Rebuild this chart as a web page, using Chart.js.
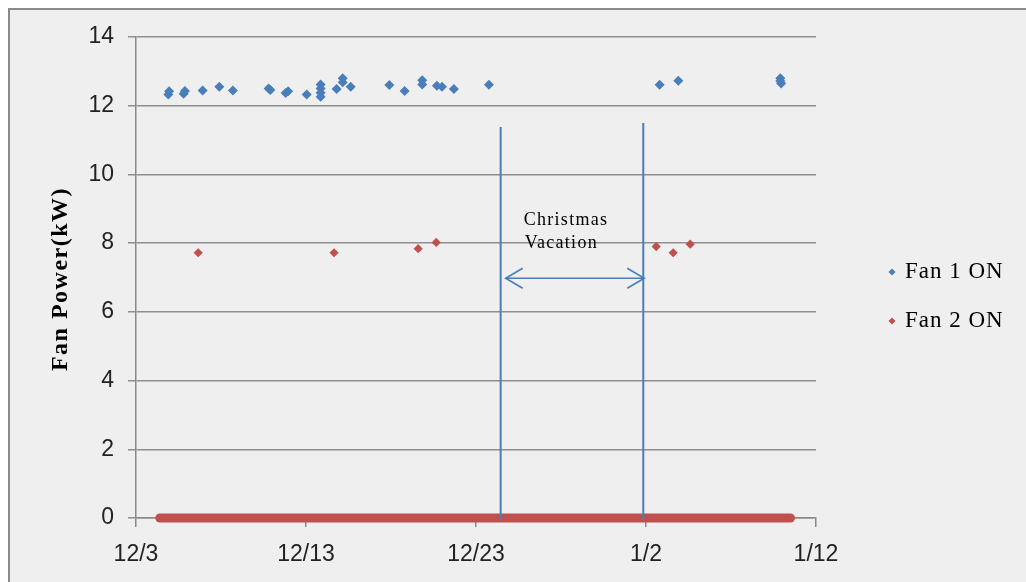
<!DOCTYPE html>
<html>
<head>
<meta charset="utf-8">
<title>Fan Power</title>
<script src="https://cdn.jsdelivr.net/npm/chart.js@4/dist/chart.umd.min.js"></script>
<style>
  html, body { margin: 0; padding: 0; background: #ffffff; }
  canvas { display: block; }
</style>
</head>
<body>
<canvas id="fan" width="1026" height="582"></canvas>
<script>
// Days are counted from 12/3; tick labels every 10 days.
const xTickLabels = ['12/3', '12/13', '12/23', '1/2', '1/12'];
const yTicks = [0, 2, 4, 6, 8, 10, 12, 14];

// Fan 1 ON readings (day, kW)
const fan1Days = [1.9, 1.95, 2.8, 2.88, 3.92, 4.9, 5.7, 7.8, 7.9, 8.8, 8.95, 10.04,
  10.86, 10.86, 10.86, 10.86, 11.8, 12.16, 12.16, 12.63, 14.9, 15.8, 16.84, 16.84,
  17.7, 18.0, 18.7, 20.76, 30.8, 31.9, 37.9, 37.9, 37.95];
const fan1Power = [12.33, 12.42, 12.35, 12.43, 12.44, 12.55, 12.44, 12.5, 12.46, 12.37, 12.42, 12.33,
  12.62, 12.5, 12.38, 12.26, 12.49, 12.8, 12.68, 12.55, 12.6, 12.43, 12.74, 12.62,
  12.58, 12.55, 12.49, 12.61, 12.61, 12.73, 12.8, 12.72, 12.65];

// Fan 2 ON readings (day, kW)
const fan2Days = [3.66, 11.65, 16.6, 17.66, 30.6, 31.6, 32.6];
const fan2Power = [7.72, 7.72, 7.84, 8.02, 7.9, 7.72, 7.97];

// Span of continuous zero-power readings (first and last day)
const offDays = [1.4, 38.5];
const offPower = [0, 0];

// Christmas vacation markers
const vacationStart = 21.45;
const vacationEnd = 29.84;
const vacationStartTop = 11.38;
const vacationEndTop = 11.5;
const vacationArrowLevel = 6.98;
const vacationText = ['Christmas', 'Vacation'];

const blue = '#4a7ebb';
const red = '#c0504d';

const toPoints = (xs, ys) => xs.map((x, i) => ({ x: x, y: ys[i] }));

// Frame, background, axis title, legend and vacation annotation
const decor = {
  id: 'decor',
  beforeDraw(chart) {
    const ctx = chart.ctx;
    ctx.save();
    ctx.fillStyle = '#ffffff';
    ctx.fillRect(0, 0, chart.width, chart.height);
    ctx.fillStyle = '#efefef';
    ctx.fillRect(9, 9, chart.width - 9, chart.height - 9);
    ctx.strokeStyle = '#8a8a8a';
    ctx.lineWidth = 2;
    ctx.beginPath();
    ctx.moveTo(9, chart.height);
    ctx.lineTo(9, 9);
    ctx.lineTo(chart.width, 9);
    ctx.stroke();
    ctx.restore();
  },
  afterDraw(chart) {
    const ctx = chart.ctx;
    const xs = chart.scales.x, ys = chart.scales.y;
    ctx.save();

    // y axis title
    ctx.translate(61, 279);
    ctx.rotate(-Math.PI / 2);
    ctx.font = 'bold 24px "Liberation Serif", serif';
    ctx.letterSpacing = '1.5px';
    ctx.fillStyle = '#000';
    ctx.textAlign = 'center';
    ctx.textBaseline = 'middle';
    ctx.fillText('Fan Power(kW)', 0, 0);
    ctx.setTransform(1, 0, 0, 1, 0, 0);

    // legend
    const items = [
      { label: 'Fan 1 ON', color: blue, y: 272 },
      { label: 'Fan 2 ON', color: red, y: 321 }
    ];
    ctx.font = '23px "Liberation Serif", serif';
    ctx.letterSpacing = '1px';
    ctx.textAlign = 'left';
    items.forEach(it => {
      ctx.fillStyle = it.color;
      ctx.beginPath();
      ctx.moveTo(892, it.y - 3.5);
      ctx.lineTo(895.5, it.y);
      ctx.lineTo(892, it.y + 3.5);
      ctx.lineTo(888.5, it.y);
      ctx.closePath();
      ctx.fill();
      ctx.fillStyle = '#000';
      ctx.fillText(it.label, 905, it.y);
    });

    // vacation lines
    const x1 = xs.getPixelForValue(vacationStart);
    const x2 = xs.getPixelForValue(vacationEnd);
    const yb = ys.getPixelForValue(0) + 2;
    ctx.strokeStyle = blue;
    ctx.lineWidth = 2;
    ctx.beginPath();
    ctx.moveTo(x1, ys.getPixelForValue(vacationStartTop));
    ctx.lineTo(x1, yb);
    ctx.moveTo(x2, ys.getPixelForValue(vacationEndTop));
    ctx.lineTo(x2, yb);
    ctx.stroke();

    // double-headed arrow
    const ya = ys.getPixelForValue(vacationArrowLevel);
    const l = x1 + 5, r = x2 + 1;
    ctx.lineWidth = 1.6;
    ctx.beginPath();
    ctx.moveTo(l, ya); ctx.lineTo(r, ya);
    ctx.moveTo(l + 17, ya - 10); ctx.lineTo(l, ya); ctx.lineTo(l + 17, ya + 10);
    ctx.moveTo(r - 17, ya - 10); ctx.lineTo(r, ya); ctx.lineTo(r - 17, ya + 10);
    ctx.stroke();

    // label
    ctx.font = '18px "Liberation Serif", serif';
    ctx.letterSpacing = '1.3px';
    ctx.fillStyle = '#000';
    ctx.textBaseline = 'middle';
    ctx.fillText(vacationText[0], x1 + 23, 220);
    ctx.fillText(vacationText[1], x1 + 24, 243);
    ctx.restore();
  }
};

new Chart(document.getElementById('fan'), {
  type: 'scatter',
  data: {
    datasets: [
      {
        label: 'Fan 1 ON',
        data: toPoints(fan1Days, fan1Power),
        pointStyle: 'rectRot',
        pointRadius: 5,
        pointBorderWidth: 0,
        backgroundColor: blue,
        borderColor: blue,
        order: 2
      },
      {
        label: 'Fan 2 ON',
        data: toPoints(fan2Days, fan2Power),
        pointStyle: 'rectRot',
        pointRadius: 4.6,
        pointBorderWidth: 0,
        backgroundColor: red,
        borderColor: red,
        order: 1
      },
      {
        label: 'off',
        type: 'line',
        data: toPoints(offDays, offPower),
        showLine: true,
        borderColor: red,
        borderWidth: 9,
        borderCapStyle: 'round',
        pointRadius: 0,
        clip: false,
        order: 0
      }
    ]
  },
  options: {
    responsive: false,
    animation: false,
    layout: { padding: { left: 0, top: 37, right: 210, bottom: 0 } },
    plugins: {
      legend: { display: false },
      tooltip: { enabled: false }
    },
    scales: {
      x: {
        type: 'linear',
        min: 0,
        max: (xTickLabels.length - 1) * 10,
        afterFit: s => { s.height = 64; },
        afterBuildTicks: s => { s.ticks = xTickLabels.map((_, i) => ({ value: i * 10 })); },
        ticks: {
          callback: v => xTickLabels[Math.round(v / 10)],
          font: { family: '"Liberation Sans", Arial, sans-serif', size: 23 },
          color: '#222',
          padding: 14,
          maxRotation: 0
        },
        grid: { drawOnChartArea: false, drawTicks: true, tickLength: 9, color: '#8a8a8a', lineWidth: 1.5 },
        border: { color: '#8a8a8a', width: 1.5 }
      },
      y: {
        min: yTicks[0],
        max: yTicks[yTicks.length - 1],
        afterFit: s => { s.width = 136; },
        afterBuildTicks: s => { s.ticks = yTicks.map(v => ({ value: v })); },
        ticks: {
          font: { family: '"Liberation Sans", Arial, sans-serif', size: 23 },
          color: '#222',
          padding: 14
        },
        grid: { color: '#8f8f8f', lineWidth: 1.5, tickLength: 8 },
        border: { color: '#8a8a8a', width: 1.5 }
      }
    }
  },
  plugins: [decor]
});
</script>
</body>
</html>
